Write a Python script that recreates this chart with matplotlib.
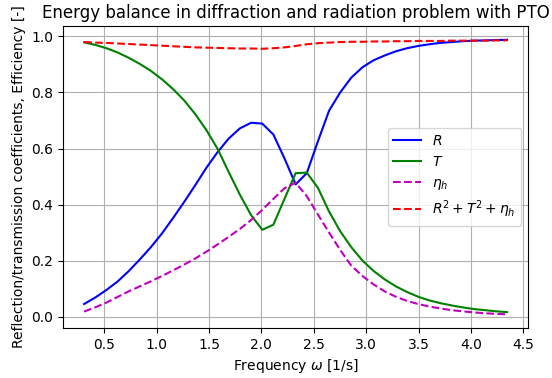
import numpy as np
import matplotlib
matplotlib.use("Agg")
import matplotlib.pyplot as plt

# frequencies [1/s]
omega = [0.307, 0.413, 0.520, 0.626, 0.732, 0.839, 0.945, 1.051, 1.157, 1.264,
         1.370, 1.476, 1.583, 1.689, 1.795, 1.902, 2.008, 2.114, 2.220, 2.327,
         2.433, 2.539, 2.646, 2.752, 2.858, 2.965, 3.071, 3.177, 3.284, 3.390,
         3.496, 3.602, 3.709, 3.815, 3.921, 4.028, 4.134, 4.240, 4.346]

# reflection coefficient
R = [0.045, 0.068, 0.095, 0.125, 0.162, 0.204, 0.248, 0.297, 0.352, 0.410,
     0.470, 0.532, 0.588, 0.636, 0.672, 0.692, 0.689, 0.650, 0.565, 0.472,
     0.512, 0.625, 0.735, 0.800, 0.853, 0.890, 0.915, 0.932, 0.947, 0.958,
     0.966, 0.972, 0.977, 0.980, 0.983, 0.985, 0.986, 0.987, 0.988]

# transmission coefficient
T = [0.979, 0.970, 0.958, 0.943, 0.924, 0.902, 0.877, 0.847, 0.812, 0.771,
     0.722, 0.665, 0.598, 0.515, 0.435, 0.362, 0.310, 0.328, 0.420, 0.512,
     0.514, 0.460, 0.375, 0.305, 0.248, 0.200, 0.163, 0.133, 0.108, 0.088,
     0.071, 0.058, 0.048, 0.040, 0.033, 0.027, 0.023, 0.019, 0.016]

# PTO efficiency
eta = [0.018, 0.033, 0.050, 0.070, 0.090, 0.108, 0.126, 0.145, 0.165, 0.186,
       0.208, 0.232, 0.258, 0.285, 0.313, 0.345, 0.381, 0.420, 0.458, 0.478,
       0.430, 0.365, 0.300, 0.238, 0.182, 0.145, 0.115, 0.090, 0.071, 0.056,
       0.045, 0.036, 0.029, 0.023, 0.019, 0.015, 0.012, 0.010, 0.008]

# energy balance R^2+T^2+eta
total = [0.980, 0.978, 0.977, 0.975, 0.973, 0.971, 0.969, 0.967, 0.965, 0.963,
         0.961, 0.960, 0.959, 0.958, 0.957, 0.957, 0.956, 0.958, 0.961, 0.966,
         0.972, 0.976, 0.978, 0.980, 0.981, 0.981, 0.982, 0.982, 0.983, 0.983,
         0.984, 0.984, 0.984, 0.985, 0.985, 0.985, 0.985, 0.986, 0.986]

fig = plt.figure(figsize=(5.52, 3.78), dpi=100)
ax = fig.add_axes([0.114, 0.132, 0.843, 0.799])
ax.plot(omega, R, 'b', label='$R$')
ax.plot(omega, T, 'g', label='$T$')
ax.plot(omega, eta, 'm--', label='$\\eta_h$')
ax.plot(omega, total, 'r--', label='$R^2+T^2+\\eta_h$')
ax.set_xlabel('Frequency $\\omega$ [1/s]')
ax.set_ylabel('Reflection/transmission coefficients, Efficiency [-]')
ax.set_title('Energy balance in diffraction and radiation problem with PTO')
ax.grid(True)
ax.legend(loc='center right')
fig.savefig('out.png', dpi=100)
